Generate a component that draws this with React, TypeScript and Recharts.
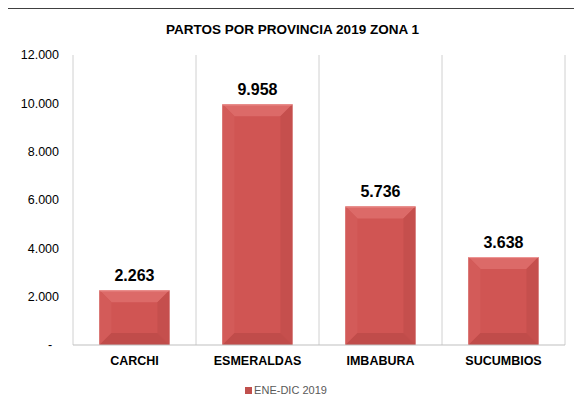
import { Bar, BarChart, CartesianGrid, LabelList, Legend, XAxis, YAxis } from "recharts";

const provincias = ["CARCHI", "ESMERALDAS", "IMBABURA", "SUCUMBIOS"];
const partos = [2263, 9958, 5736, 3638];
const yTicks = [0, 2000, 4000, 6000, 8000, 10000, 12000];
const seriesName = "ENE-DIC 2019";
const title = "PARTOS POR PROVINCIA 2019 ZONA 1";

const data = provincias.map((name, i) => ({ name, value: partos[i] }));

const FONT = "'Liberation Sans', Arial, sans-serif";

const fmt = (v: number) =>
  v === 0 ? "-\u00a0\u00a0" : v.toLocaleString("de-DE", { maximumFractionDigits: 0 });

// bevelled bar like the Excel "soft edge" effect
const BevelBar = (props: any) => {
  const { x, y, width, height } = props;
  if (!height || height <= 0) return null;
  const b = Math.min(12, width / 4, height / 3);
  const x2 = x + width;
  const y2 = y + height;
  return (
    <g>
      <rect x={x} y={y} width={width} height={height} fill="#D05553" />
      <polygon points={`${x},${y} ${x2},${y} ${x2 - b},${y + b} ${x + b},${y + b}`} fill="#DC6A68" />
      <polygon points={`${x},${y} ${x + b},${y + b} ${x + b},${y2 - b} ${x},${y2}`} fill="#D35B59" />
      <polygon points={`${x2},${y} ${x2},${y2} ${x2 - b},${y2 - b} ${x2 - b},${y + b}`} fill="#C54F4D" />
      <polygon points={`${x},${y2} ${x2},${y2} ${x2 - b},${y2 - b} ${x + b},${y2 - b}`} fill="#C04C4A" />
      <line x1={x} y1={y + 0.5} x2={x2} y2={y + 0.5} stroke="#EE9A98" strokeWidth={1} />
    </g>
  );
};

const LegendBox = () => (
  <div
    style={{
      display: "flex",
      justifyContent: "center",
      alignItems: "center",
      paddingTop: 7,
      fontFamily: FONT,
      fontSize: 11,
      color: "#595959",
    }}
  >
    <span style={{ display: "inline-block", width: 7, height: 7, background: "#C0504D", marginRight: 2 }} />
    {seriesName}
  </div>
);

export default function App() {
  return (
    <div
      style={{
        marginLeft: -2,
        width: 571,
        height: 400,
        borderLeft: "1px solid #8c8c8c",
        borderRight: "1px solid #595959",
        borderTop: "1px solid #404040",
        background: "#fff",
        position: "relative",
      }}
    >
      <div
        style={{
          position: "absolute",
          top: 13,
          width: "100%",
          textAlign: "center",
          fontFamily: FONT,
          fontWeight: "bold",
          fontSize: 13.5,
          color: "#000",
        }}
      >
        {title}
      </div>
      <BarChart
        width={571}
        height={400}
        data={data}
        margin={{ top: 46, right: 13, left: 0, bottom: 2 }}
        barCategoryGap="21.5%"
      >
        <CartesianGrid
          horizontal={false}
          stroke="#D0D0D0"
          verticalCoordinatesGenerator={({ offset }: any) =>
            [0, 1, 2, 3, 4].map((i) => offset.left + (i * offset.width) / provincias.length)
          }
        />
        <XAxis
          dataKey="name"
          height={32}
          axisLine={{ stroke: "#BFBFBF" }}
          tickLine={false}
          tickMargin={5}
          tick={{ fontFamily: FONT, fontWeight: "bold", fontSize: 12.5, fill: "#000" }}
        />
        <YAxis
          width={66}
          domain={[0, 12000]}
          ticks={yTicks}
          tickFormatter={fmt}
          axisLine={false}
          tickLine={false}
          tickMargin={8}
          tick={{ fontFamily: FONT, fontSize: 12.5, fill: "#000" }}
        />
        <Legend verticalAlign="bottom" height={30} content={<LegendBox />} />
        <Bar dataKey="value" name={seriesName} fill="#C0504D" shape={<BevelBar />} isAnimationActive={false}>
          <LabelList
            dataKey="value"
            position="top"
            offset={9}
            formatter={(v: any) => fmt(Number(v))}
            style={{ fontFamily: FONT, fontWeight: "bold", fontSize: 16, fill: "#000" }}
          />
        </Bar>
      </BarChart>
    </div>
  );
}
